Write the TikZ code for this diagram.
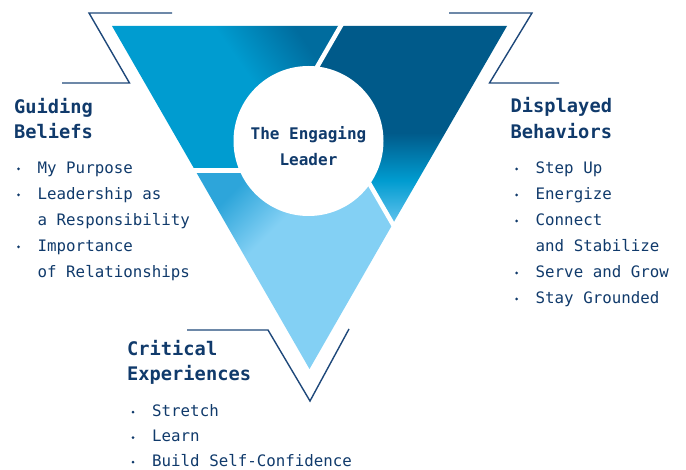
\documentclass[tikz,border=0pt]{standalone}
\usepackage{fontspec}
\newfontfamily\monofont{DejaVu Sans Mono}

\definecolor{ink}{RGB}{16,58,107}
\definecolor{linenavy}{RGB}{30,72,122}
\definecolor{segcyan}{RGB}{0,156,208}
\definecolor{segdeep}{RGB}{0,108,158}
\definecolor{segnavy}{RGB}{0,90,138}
\definecolor{segsky}{RGB}{131,208,244}
\definecolor{segmid}{RGB}{45,165,218}
\definecolor{segtip}{RGB}{100,195,238}

% fills of the three parts
\pgfdeclarehorizontalshading{beliefshade}{100bp}{color(0bp)=(segcyan); color(58bp)=(segcyan); color(75bp)=(segdeep); color(100bp)=(segdeep)}
\pgfdeclareverticalshading{behaviorshade}{100bp}{color(0bp)=(segtip); color(25bp)=(segtip); color(36bp)=(segcyan); color(48bp)=(segnavy); color(100bp)=(segnavy)}
\pgfdeclarehorizontalshading{experienceshade}{100bp}{color(0bp)=(segmid); color(25bp)=(segmid); color(39bp)=(segsky); color(100bp)=(segsky)}

\tikzset{
  head/.style={anchor=base west, align=left, inner sep=0pt, text=ink,
    font=\monofont\bfseries\fontsize{18.7}{25.5}\selectfont},
  item/.style={anchor=base west, inner sep=0pt, text=ink,
    font=\monofont\fontsize{15.8}{26}\selectfont},
  lead/.style={align=center, inner sep=0pt, text=ink,
    font=\monofont\bfseries\fontsize{16}{26}\selectfont},
  frame/.style={draw=linenavy, line width=1.4pt},
  gap/.style={draw=white, line width=4.5pt, shorten <=-4pt},
}

\begin{document}
\begin{tikzpicture}[x=1pt, y=-1pt]
  \useasboundingbox (0,0) rectangle (686,470);
  % triangle corners and centre
  \coordinate (A) at (112,26);
  \coordinate (B) at (507,26);
  \coordinate (C) at (309.5,369);
  \coordinate (G) at (309.5,140.3);
  % gap ends on the edges and where the gaps cross
  \coordinate (P) at (340.7,26);
  \coordinate (Q) at (195.2,170.5);
  \coordinate (R) at (392.7,224);
  \coordinate (PQ) at (257.3,170.5);
  \coordinate (PR) at (309.5,80);
  \coordinate (QR) at (361.8,170.5);

  % three blue parts
  \shade[shading=beliefshade, shading angle=35] (A) -- (P) -- (PQ) -- (Q) -- cycle;
  \shade[shading=behaviorshade] (P) -- (B) -- (R) -- (PR) -- cycle;
  \shade[shading=experienceshade, shading angle=-45] (Q) -- (QR) -- (R) -- (C) -- cycle;
  \draw[gap] (P) -- (PQ);
  \draw[gap] (Q) -- (QR);
  \draw[gap] (R) -- (PR);

  % centre disc
  \fill[white] (308.5,141) circle (75pt);
  \node[lead] (leader) at (308.5,146) {The Engaging\\Leader};

  % frame lines
  \draw[frame] (62,83) -- (129.5,83) -- (89,13) -- (172,13);
  \draw[frame] (449,13) -- (532,13) -- (489.5,83) -- (559,83);
  \draw[frame] (187,330) -- (268,330) -- (310,401) -- (349,329);

  % guiding beliefs
  \node[head] (beliefs) at (14,139) {Guiding\\Beliefs};
  \node[item] (belief1) at (37.5,173.3) {My Purpose};
  \node[item] (belief2) at (37.5,199.3) {Leadership as};
  \node[item] (belief3) at (37.5,225.3) {a Responsibility};
  \node[item] (belief4) at (37.5,251.3) {Importance};
  \node[item] (belief5) at (37.5,277.3) {of Relationships};
  \foreach \y in {173.3,199.3,251.3}
    \fill[ink] (18.5,\y-4.3) circle (1.5pt);

  % displayed behaviors
  \node[head] (behaviors) at (510.5,138.5) {Displayed\\Behaviors};
  \node[item] (behavior1) at (535.5,173.3) {Step Up};
  \node[item] (behavior2) at (535.5,199.3) {Energize};
  \node[item] (behavior3) at (535.5,225.3) {Connect};
  \node[item] (behavior4) at (535.5,251.3) {and Stabilize};
  \node[item] (behavior5) at (535.5,277.3) {Serve and Grow};
  \node[item] (behavior6) at (535.5,303.3) {Stay Grounded};
  \foreach \y in {173.3,199.3,225.3,277.3,303.3}
    \fill[ink] (516.5,\y-4.3) circle (1.5pt);

  % critical experiences
  \node[head] (experiences) at (127,381) {Critical\\Experiences};
  \node[item] (experience1) at (152,416.5) {Stretch};
  \node[item] (experience2) at (152,442) {Learn};
  \node[item] (experience3) at (152,466.5) {Build Self-Confidence};
  \foreach \y in {416.5,442,466.5}
    \fill[ink] (133,\y-4.3) circle (1.5pt);
\end{tikzpicture}
\end{document}
